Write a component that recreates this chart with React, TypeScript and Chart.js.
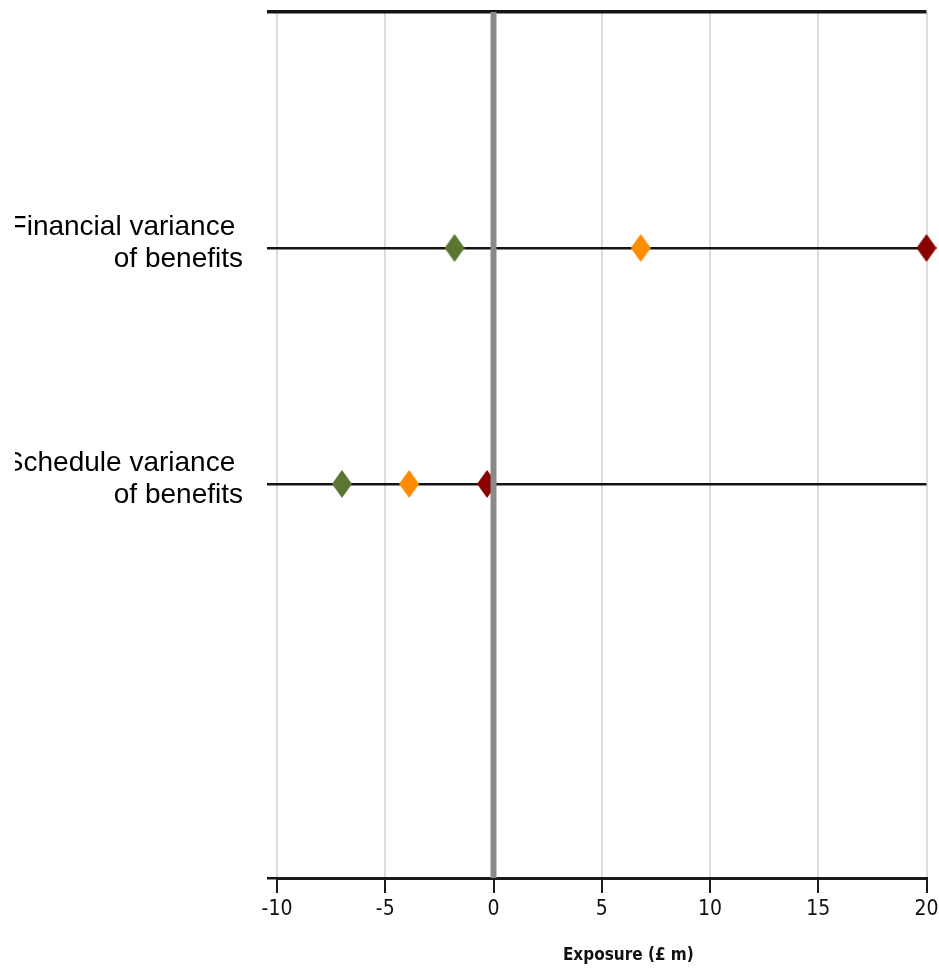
import React, { useEffect, useRef } from 'react';
import { Chart, registerables } from 'chart.js';

Chart.register(...registerables);

// ---- data ----
const categories: string[][] = [
  ['Financial variance ', 'of benefits'],
  ['Schedule variance ', 'of benefits'],
];
const lowValues = [-1.8, -7.0];   // green
const midValues = [6.8, -3.9];    // orange
const highValues = [20, -0.3];    // dark red
const xTicks = [-10, -5, 0, 5, 10, 15, 20];
const xTitle = '          Exposure (£ m)';

const Y_TOP = 0;
const Y_BOTTOM = 3.67;

const NARROW = "'Liberation Sans Narrow', 'DejaVu Sans Condensed', 'Arial Narrow', sans-serif";

function diamond(color: string, w: number, h: number) {
  const c = document.createElement('canvas');
  c.width = w;
  c.height = h;
  const ctx = c.getContext('2d')!;
  ctx.fillStyle = color;
  ctx.beginPath();
  ctx.moveTo(w / 2, 0);
  ctx.lineTo(w, h / 2);
  ctx.lineTo(w / 2, h);
  ctx.lineTo(0, h / 2);
  ctx.closePath();
  ctx.fill();
  return c;
}

export default function App() {
  const ref = useRef<HTMLCanvasElement | null>(null);

  useEffect(() => {
    if (!ref.current) return;
    const green = diamond('#5a7632', 20, 28);
    const orange = diamond('#ff8c00', 20, 28);
    const red = diamond('#8b0000', 20, 28);
    const toPts = (vals: number[]) => vals.map((v, i) => ({ x: v, y: i + 1 }));

    const chart = new Chart(ref.current, {
      type: 'scatter',
      data: {
        datasets: [
          {
            label: 'zero',
            type: 'line',
            data: [{ x: 0, y: Y_TOP }, { x: 0, y: Y_BOTTOM }],
            borderColor: '#8a8a8a',
            borderWidth: 6,
            pointRadius: 0,
            order: 0,
            clip: false,
          } as any,
          { label: 'low', data: toPts(lowValues), pointStyle: green as any, order: 1, clip: false } as any,
          { label: 'mid', data: toPts(midValues), pointStyle: orange as any, order: 2, clip: false } as any,
          { label: 'high', data: toPts(highValues), pointStyle: red as any, order: 3, clip: false } as any,
        ],
      },
      options: {
        animation: false,
        responsive: false,
        events: [],
        layout: { padding: { top: 12, right: 12.5, left: 0, bottom: 0 } },
        plugins: { legend: { display: false }, tooltip: { enabled: false } },
        scales: {
          x: {
            type: 'linear',
            min: -10,
            max: 20,
            afterBuildTicks: (s: any) => {
              s.ticks = xTicks.map((v) => ({ value: v }));
            },
            grid: { color: '#dcdcdc', lineWidth: 2, tickColor: '#1a1a1a', tickLength: 15, tickWidth: 2 },
            border: { display: true, color: '#1a1a1a', width: 3 },
            ticks: {
              font: { family: NARROW, size: 21 },
              color: '#111',
              padding: 4,
              maxRotation: 0,
              autoSkip: false,
            },
            title: {
              display: true,
              text: xTitle,
              font: { family: NARROW, size: 17, weight: 'bold' },
              color: '#111',
              padding: { top: 0, bottom: 14 },
            },
            afterFit: (s: any) => {
              s.height = 102;
              s.paddingLeft = 0;
              s.paddingRight = 0;
            },
          },
          y: {
            type: 'linear',
            min: Y_TOP,
            max: Y_BOTTOM,
            reverse: true,
            afterBuildTicks: (s: any) => {
              s.ticks = [Y_TOP, 1, 2, Y_BOTTOM].map((v) => ({ value: v }));
            },
            grid: {
              color: '#141414',
              lineWidth: (ctx: any) => (ctx.tick && ctx.tick.value === Y_TOP ? 3.5 : 2.5),
              tickLength: 10,
            },
            border: { display: false },
            ticks: {
              callback: (v: any) => {
                const n = Number(v);
                return Number.isInteger(n) && categories[n - 1] ? categories[n - 1] : [];
              },
              font: { family: "'Liberation Sans', Arial, sans-serif", size: 28, lineHeight: 1.143 },
              color: '#000',
              padding: 24,
              labelOffset: -5,
              autoSkip: false,
            },
            afterFit: (s: any) => {
              s.width = 262;
              s.paddingTop = 0;
              s.paddingBottom = 0;
            },
          },
        },
      } as any,
    });
    return () => chart.destroy();
  }, []);

  return (
    <div style={{ position: 'absolute', left: 15, top: 0, width: 924, height: 980 }}>
      <canvas ref={ref} width={924} height={980} style={{ display: 'block', width: 924, height: 980 }} />
    </div>
  );
}
